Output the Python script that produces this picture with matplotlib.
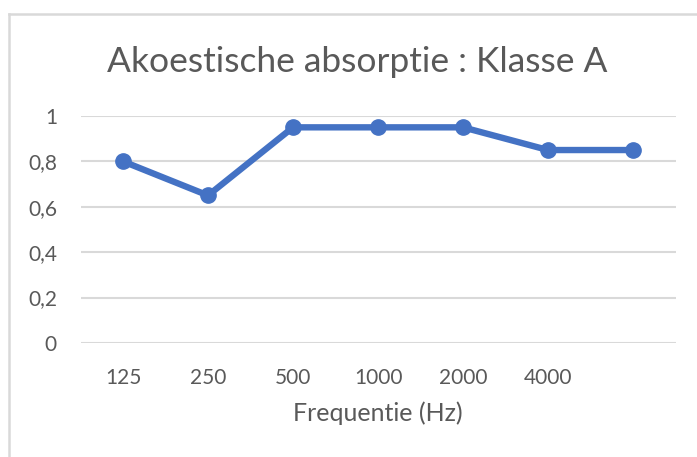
import matplotlib.pyplot as plt
from matplotlib.lines import Line2D

frequencies = ['125', '250', '500', '1000', '2000', '4000']
absorption = [0.8, 0.65, 0.95, 0.95, 0.95, 0.85, 0.85]
y_ticks = [0, 0.2, 0.4, 0.6, 0.8, 1.0]
y_labels = ['0', '0,2', '0,4', '0,6', '0,8', '1']

plt.rcParams['font.family'] = ['Lato', 'DejaVu Sans']
text_color = '#595959'
grid_color = '#d9d9d9'
blue = '#4472c4'

fig = plt.figure(figsize=(6.97, 4.57), dpi=100)
ax = fig.add_axes([0.1155, 0.2495, 0.8537, 0.4967])

x = list(range(len(absorption)))
ax.plot(x, absorption, color=blue, linewidth=4.6, marker='o',
        markersize=11, solid_capstyle='round', clip_on=False, zorder=3)

ax.set_xlim(-0.5, len(absorption) - 0.5)
ax.set_ylim(0, 1)

ax.set_yticks(y_ticks)
ax.set_yticklabels(y_labels)
ax.yaxis.grid(True, color=grid_color, linewidth=1.5)
ax.set_axisbelow(True)

# the last point has no category label in the original
ax.set_xticks(range(len(frequencies)))
ax.set_xticklabels(frequencies)

ax.tick_params(axis='both', length=0, labelsize=15, colors=text_color)
ax.tick_params(axis='y', pad=17)
ax.tick_params(axis='x', pad=18)

for s in ax.spines.values():
    s.set_visible(False)

ax.set_xlabel('Frequentie (Hz)', fontsize=18, color=text_color, labelpad=10)
fig.text(0.512, 1 - 72 / 457, 'Akoestische absorptie : Klasse A', ha='center',
         va='baseline', fontsize=25.5, color=text_color)

# chart frame border (top and left edges)
fig.add_artist(Line2D([9 / 697, 1], [1 - 14 / 457, 1 - 14 / 457],
                      color=grid_color, linewidth=1.8, transform=fig.transFigure))
fig.add_artist(Line2D([9 / 697, 9 / 697], [0, 1 - 14 / 457],
                      color=grid_color, linewidth=1.8, transform=fig.transFigure))

fig.savefig('out.png', dpi=100)
